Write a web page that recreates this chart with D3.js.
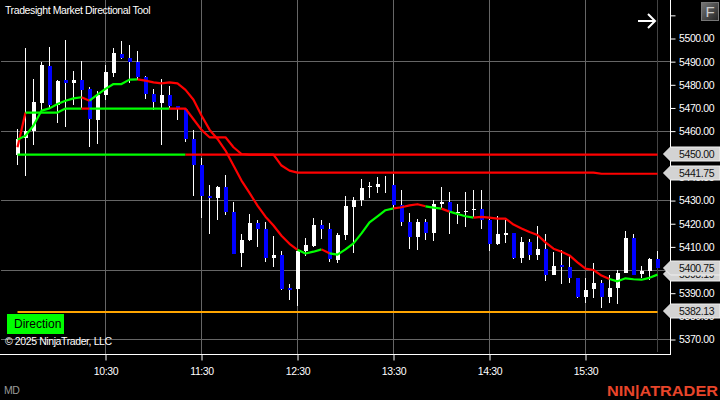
<!DOCTYPE html>
<head>
  <meta charset="utf-8">
  <style>
    html, body { margin: 0; padding: 0; background: #000; }
    svg { display: block; font-family: "Liberation Sans", Arial, sans-serif; }
  </style>
  <script src="https://cdn.jsdelivr.net/npm/d3@7"></script>
</head>
<body>
<svg id=chart width="720" height="400"></svg>

<script>
// 5 minute bars, first bar is 09:35
const first_bar_minute = 575
const opens = [5449.6,5456.9,5460.0,5472.0,5488.0,5471.2,5482.0,5480.7,5482.0,5478.1,5464.7,5475.5,5485.0,5493.2,5491.5,5489.8,5483.3,5475.9,5472.0,5475.5,5470.8,5469.5,5456.5,5445.3,5431.9,5431.0,5435.8,5425.0,5407.3,5412.9,5420.2,5417.6,5405.1,5406.4,5392.1,5391.7,5408.1,5410.3,5419.4,5417.6,5404.2,5415.0,5427.1,5430.2,5435.8,5435.8,5437.1,5436.6,5428.0,5420.7,5414.2,5420.7,5415.9,5428.4,5429.3,5424.5,5425.0,5425.8,5426.3,5421.5,5411.2,5415.0,5415.9,5405.1,5412.0,5406.4,5409.0,5397.8,5402.1,5401.2,5396.5,5388.3,5391.7,5394.3,5388.3,5392.1,5398.6,5413.7,5398.2,5399.5,5404.7]
const highs = [5460.8,5495.8,5482.4,5489.8,5496.2,5482.0,5499.3,5485.9,5490.2,5479.0,5477.2,5488.4,5495.8,5498.8,5497.1,5494.5,5483.7,5478.1,5482.4,5479.4,5470.8,5469.9,5460.4,5448.3,5436.6,5436.2,5441.0,5429.3,5415.5,5424.1,5421.5,5420.7,5414.6,5408.1,5393.9,5408.1,5413.7,5422.4,5421.5,5420.2,5415.9,5431.9,5431.5,5439.2,5437.9,5440.1,5440.5,5441.4,5434.5,5424.5,5422.0,5422.0,5430.2,5435.8,5433.6,5428.4,5433.6,5434.5,5434.5,5422.0,5423.2,5421.5,5415.9,5414.2,5413.3,5418.9,5415.5,5407.7,5408.6,5406.4,5396.5,5396.5,5403.0,5395.6,5397.8,5399.9,5416.8,5415.5,5401.6,5405.1,5408.1]
const lows = [5445.3,5440.5,5453.9,5469.0,5469.9,5463.4,5461.7,5471.2,5469.9,5453.0,5454.3,5473.3,5483.3,5491.0,5480.7,5482.0,5473.8,5469.0,5453.9,5469.9,5464.7,5455.2,5431.9,5422.4,5415.5,5421.5,5423.7,5406.8,5401.2,5412.4,5409.9,5403.4,5401.2,5391.3,5387.0,5384.4,5406.0,5409.9,5413.3,5403.4,5403.0,5412.9,5407.3,5427.6,5431.0,5433.2,5433.2,5426.7,5418.9,5409.0,5408.5,5412.9,5412.4,5426.7,5415.5,5419.8,5418.5,5422.8,5417.6,5408.1,5410.7,5411.6,5404.7,5403.0,5404.2,5404.2,5395.2,5397.8,5393.9,5394.3,5387.8,5385.7,5387.8,5383.5,5385.7,5385.2,5398.6,5397.8,5396.5,5395.6,5400.75]
const closes = [5456.5,5460.0,5472.5,5488.4,5471.2,5481.5,5480.7,5482.0,5477.7,5465.1,5475.5,5485.4,5493.6,5491.5,5489.8,5483.3,5475.9,5472.5,5475.5,5470.8,5469.9,5456.5,5445.3,5431.9,5431.0,5435.8,5425.0,5406.8,5412.9,5420.2,5417.6,5405.1,5406.4,5391.7,5391.3,5408.1,5410.7,5419.4,5417.6,5404.7,5415.0,5427.6,5430.2,5435.3,5436.2,5437.1,5437.1,5428.0,5420.7,5414.2,5420.7,5415.9,5428.4,5429.3,5425.0,5425.0,5425.4,5426.3,5421.5,5411.2,5415.5,5415.9,5405.1,5412.0,5406.4,5409.0,5397.8,5401.6,5401.2,5396.5,5388.3,5391.3,5394.3,5388.3,5392.1,5398.6,5413.7,5397.8,5399.5,5404.7,5400.75]

// the three indicator lines
const direction_line = [5456.5,5458.2,5462.6,5469.0,5470.0,5471.9,5473.3,5474.3,5474.8,5473.3,5475.9,5478.4,5480.5,5480.5,5482.4,5482.5,5482.0,5481.2,5480.8,5481.2,5480.8,5478.0,5473.7,5466.9,5460.8,5456.8,5451.8,5445.3,5438.8,5433.5,5428.0,5423.2,5419.4,5415.0,5411.5,5408.9,5407.3,5408.1,5409.1,5407.4,5406.8,5409.1,5411.7,5416.0,5420.8,5423.4,5426.0,5426.8,5427.3,5428.1,5428.6,5427.7,5427.1,5426.7,5425.4,5424.4,5423.4,5422.8,5423.1,5422.8,5422.4,5422.4,5419.8,5418.1,5416.6,5415.3,5412.1,5409.4,5408.1,5406.5,5403.5,5400.8,5400.2,5397.8,5396.3,5395.3,5396.6,5396.2,5396.0,5396.8,5398.19]
const stop_line = [5453.2,5468.2,5468.2,5468.2,5468.2,5468.2,5469.9,5469.9,5469.9,5469.9,5469.9,5469.9,5469.9,5469.9,5469.9,5469.9,5469.9,5469.9,5469.9,5469.9,5469.9,5469.9,5465.3,5460.7,5457.5,5457.5,5457.5,5453.2,5450.3,5450,5450,5450,5450,5445.3,5443.1,5442.25,5442.25,5442.25,5442.25,5442.25,5442.25,5442.25,5442.25,5442.25,5442.25,5442.25,5442.25,5442.25,5442.25,5442.25,5442.25,5442.25,5442.25,5442.25,5442.25,5442.25,5442.25,5442.25,5442.25,5442.25,5442.25,5442.25,5442.25,5442.25,5442.25,5442.25,5442.25,5442.25,5442.25,5442.25,5442.25,5442.25,5442.25,5441.75,5441.75,5441.75,5441.75,5441.75,5441.75,5441.75,5441.75]
const base_level = 5450
const orange_level = 5382.13

// bar ranges [from, to] where a line is red, green everywhere else
const direction_red = [[8, 9], [15, 35], [38, 39], [47, 51], [53, 54], [57, 74]]
const stop_red = [[0, 1], [8, 9], [19, 80]]
const base_red = [[21, 80]]

const hour_ticks = [630, 690, 750, 810, 870, 930]
const hour_labels = ['10:30', '11:30', '12:30', '13:30', '14:30', '15:30']
const price_ticks = d3.range(5370, 5511, 10)
const grid_prices = [5370, 5400, 5430, 5460, 5490]
const hidden_labels = [5510]
const markers = [5450, 5441.75, 5398.19, 5400.75, 5382.13]

const svg = d3.select('#chart')
const plot_right = 670.5
const plot_bottom = 354.5
const label_size = 10.5
const label_spacing = '-0.4px'

const bar_minute = i => first_bar_minute + i * 5
const x = d3.scaleLinear().domain([575, 975]).range([17.5, 657.5])
const y = d3.scaleLinear().domain([5370, 5500]).range([339.5, 38.5])

svg.append('rect').attr('width', 720).attr('height', 400).attr('fill', '#000')

// grid
const grid = svg.append('g').attr('stroke', '#666').attr('stroke-width', 1)
grid.selectAll('.v').data(hour_ticks).join('line').attr('class', 'v')
  .attr('x1', d => x(d)).attr('x2', d => x(d)).attr('y1', 0).attr('y2', plot_bottom)
grid.selectAll('.h').data(grid_prices).join('line').attr('class', 'h')
  .attr('x1', 1).attr('x2', plot_right).attr('y1', d => Math.floor(y(d)) + .5).attr('y2', d => Math.floor(y(d)) + .5)
// last bar marker line
svg.append('line').attr('stroke', '#444')
  .attr('x1', x(975)).attr('x2', x(975)).attr('y1', 0).attr('y2', 352)

// candles
const bars = svg.append('g').attr('shape-rendering', 'crispEdges')
const candles = bars.selectAll('g').data(opens.map((o, i) => i)).join('g')
const bar_color = i => closes[i] >= opens[i] ? '#fff' : '#0000ff'
candles.append('rect')
  .attr('x', i => Math.floor(x(bar_minute(i))))
  .attr('width', 1)
  .attr('y', i => Math.round(y(highs[i])))
  .attr('height', i => Math.round(y(lows[i])) - Math.round(y(highs[i])))
  .attr('fill', '#fff')
candles.append('rect')
  .attr('x', i => Math.floor(x(bar_minute(i))) - 1)
  .attr('width', i => opens[i] === closes[i] ? 0 : 4)
  .attr('y', i => Math.round(y(Math.max(opens[i], closes[i]))))
  .attr('height', i => Math.max(1, Math.round(y(Math.min(opens[i], closes[i]))) - Math.round(y(Math.max(opens[i], closes[i])))))
  .attr('fill', bar_color)

// two colour line, one path per run of bars with the same colour
const is_red = (ranges, i) => ranges.some(r => i >= r[0] && i < r[1])
const run_line = d3.line().x(i => x(bar_minute(i))).y(d => d)
function draw_line(values, red_ranges) {
  const g = svg.append('g').attr('fill', 'none').attr('stroke-width', 2.2).attr('stroke-linejoin', 'round')
  const runs = []
  d3.range(values.length - 1).forEach(i => {
    const red = is_red(red_ranges, i)
    const last = runs[runs.length - 1]
    if (last && last.red === red) last.bars.push(i + 1)
    else runs.push({ red, bars: [i, i + 1] })
  })
  const path = d3.line().x(i => x(bar_minute(i))).y(i => y(values[i]) + .4)
  g.selectAll('path').data(runs).join('path')
    .attr('d', d => path(d.bars))
    .attr('stroke', d => d.red ? '#ff0000' : '#00ff00')
}
draw_line(stop_line, stop_red)
draw_line(opens.map(() => base_level), base_red)
draw_line(direction_line, direction_red)

svg.append('line').attr('stroke', '#ffa500').attr('stroke-width', 2)
  .attr('x1', x(bar_minute(0))).attr('x2', x(975))
  .attr('y1', Math.ceil(y(orange_level))).attr('y2', Math.ceil(y(orange_level)))

// axes
const axis_bottom = d3.axisBottom(x).tickValues(hour_ticks).tickFormat((d, i) => hour_labels[i]).tickSize(6).tickSizeOuter(0)
const gx = svg.append('g').attr('transform', `translate(0,${plot_bottom})`).call(axis_bottom)
gx.select('.domain').remove()
gx.selectAll('line').attr('stroke', '#fff')
gx.selectAll('text').attr('fill', '#fff').attr('font-size', label_size).attr('letter-spacing', label_spacing).attr('y', 13.5)
svg.append('line').attr('stroke', '#fff').attr('x1', 0).attr('x2', plot_right + .5).attr('y1', plot_bottom).attr('y2', plot_bottom)

const axis_right = d3.axisRight(y).tickValues(price_ticks).tickSize(5).tickFormat(d => hidden_labels.includes(d) ? '' : d3.format('.2f')(d))
const gy = svg.append('g').attr('transform', `translate(${plot_right},0)`).call(axis_right)
gy.select('.domain').remove()
gy.selectAll('line').attr('stroke', '#fff')
gy.selectAll('text').attr('fill', '#fff').attr('font-size', label_size).attr('letter-spacing', label_spacing).attr('x', 8.5)
svg.append('line').attr('stroke', '#fff').attr('x1', plot_right).attr('x2', plot_right).attr('y1', 0).attr('y2', plot_bottom)

// price markers on the axis
const marker_g = svg.append('g').selectAll('g').data(markers).join('g')
  .attr('transform', d => `translate(0,${Math.round(y(d))})`)
marker_g.append('path')
  .attr('d', 'M663.5,0 L670.5,-7 L720,-7 L720,7 L670.5,7 Z')
  .attr('fill', '#d3d3d3').attr('stroke', '#f0f0f0').attr('stroke-width', 1)
marker_g.append('text')
  .attr('x', 679).attr('y', 4).attr('font-size', label_size).attr('letter-spacing', label_spacing).attr('fill', '#111')
  .text(d => d3.format('.2f')(d))

// top right arrow
svg.append('path').attr('fill', 'none').attr('stroke', '#fff').attr('stroke-width', 2)
  .attr('d', 'M638,21 H655 M648,14 L655,21 L648,28')

// F button
const defs = svg.append('defs')
const grad = defs.append('linearGradient').attr('id', 'f_grad').attr('x1', 0).attr('y1', 0).attr('x2', 1).attr('y2', 1)
grad.append('stop').attr('offset', 0).attr('stop-color', '#777')
grad.append('stop').attr('offset', 1).attr('stop-color', '#222')
svg.append('rect').attr('x', 701.5).attr('y', 2.5).attr('width', 17).attr('height', 18)
  .attr('fill', 'url(#f_grad)').attr('stroke', '#777')
svg.append('text').attr('x', 710).attr('y', 17).attr('text-anchor', 'middle')
  .attr('font-size', 15).attr('fill', '#ccc').text('F')

// texts on the plot
const note = (tx, ty, color, label) => svg.append('text').attr('x', tx).attr('y', ty)
  .attr('font-size', label_size).attr('letter-spacing', label_spacing).attr('fill', color).text(label)
note(5, 14, '#fff', 'Tradesight Market Directional Tool')
note(5, 345, '#fff', '© 2025 NinjaTrader, LLC')
note(4, 394, '#999', 'MD')
svg.append('rect').attr('x', 7).attr('y', 314).attr('width', 57).attr('height', 20).attr('fill', '#00ff00')
svg.append('text').attr('x', 14).attr('y', 328).attr('font-size', 12).attr('fill', '#000').text('Direction')
svg.append('text').attr('x', 607).attr('y', 396).attr('font-size', 15.5).attr('font-weight', 'bold')
  .attr('fill', '#e8452a').attr('textLength', 111).attr('lengthAdjust', 'spacingAndGlyphs').text('NIN|ATRADER')
</script>
</body>
